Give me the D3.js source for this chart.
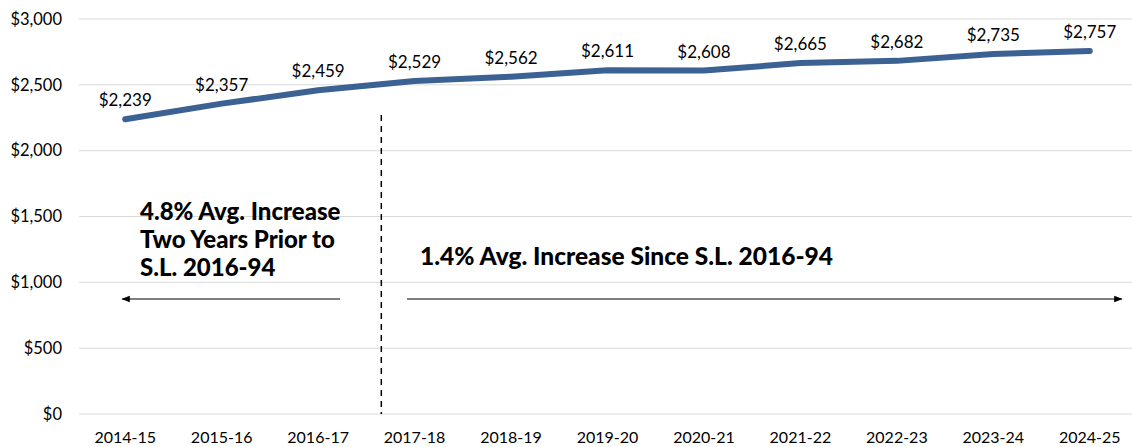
<!DOCTYPE html>
<html>
<head>
<meta charset="utf-8">
<script src="https://cdn.jsdelivr.net/npm/d3@7"></script>
<style>
  body { margin: 0; background: #fff; }
  svg text { font-family: Lato, "Open Sans", sans-serif; fill: #000; }
</style>
</head>
<body>
<script>
var years = ["2014-15","2015-16","2016-17","2017-18","2018-19","2019-20","2020-21","2021-22","2022-23","2023-24","2024-25"];
var values = [2239, 2357, 2459, 2529, 2562, 2611, 2608, 2665, 2682, 2735, 2757];
var yTicks = [0, 500, 1000, 1500, 2000, 2500, 3000];
var noteLeft = ["4.8% Avg. Increase", "Two Years Prior to", "S.L. 2016-94"];
var noteRight = "1.4% Avg. Increase Since S.L. 2016-94";

var width = 1132, height = 447;
var margin = {top: 19, right: -6, bottom: 33, left: 77};

var svg = d3.select("body").append("svg")
    .attr("width", width)
    .attr("height", height);

var x = d3.scalePoint()
    .domain(years)
    .range([margin.left, width - margin.right])
    .padding(0.5);

var y = d3.scaleLinear()
    .domain([0, 3000])
    .range([height - margin.bottom, margin.top]);

var fmt = function(d) { return "$" + d3.format(",")(d); };

// gridlines
svg.append("g")
  .selectAll("line")
  .data(yTicks)
  .enter().append("line")
    .attr("x1", margin.left + 2)
    .attr("x2", width)
    .attr("y1", function(d) { return y(d); })
    .attr("y2", function(d) { return y(d); })
    .attr("stroke", "#d9d9d9")
    .attr("stroke-width", 1);

// y labels
svg.append("g")
  .selectAll("text")
  .data(yTicks)
  .enter().append("text")
    .attr("x", 62)
    .attr("y", function(d) { return y(d); })
    .attr("dy", "0.35em")
    .attr("text-anchor", "end")
    .style("font-size", "16.5px")
    .text(fmt);

// x labels
svg.append("g")
  .selectAll("text")
  .data(years)
  .enter().append("text")
    .attr("x", function(d) { return x(d); })
    .attr("y", 437)
    .attr("dy", "0.35em")
    .attr("text-anchor", "middle")
    .style("font-size", "16px")
    .text(function(d) { return d; });

// dashed divider between 2016-17 and 2017-18
var divX = x("2016-17") + x.step() * 0.655;
svg.append("line")
    .attr("x1", divX).attr("x2", divX)
    .attr("y1", 115).attr("y2", y(0))
    .attr("stroke", "#000")
    .attr("stroke-width", 1.5)
    .attr("stroke-dasharray", "6,5");

// arrows
var defs = svg.append("defs");
defs.append("marker")
    .attr("id", "arrow")
    .attr("viewBox", "0 0 10 10")
    .attr("refX", 9).attr("refY", 5)
    .attr("markerWidth", 7).attr("markerHeight", 7)
    .attr("orient", "auto-start-reverse")
  .append("path")
    .attr("d", "M0,1L10,5L0,9Z")
    .attr("fill", "#000");

var arrowY = 299;
svg.append("line")
    .attr("x1", 340).attr("x2", x("2014-15") - 3)
    .attr("y1", arrowY).attr("y2", arrowY)
    .attr("stroke", "#000").attr("stroke-width", 1.2)
    .attr("marker-end", "url(#arrow)");
svg.append("line")
    .attr("x1", 407).attr("x2", x("2024-25") + 32)
    .attr("y1", arrowY).attr("y2", arrowY)
    .attr("stroke", "#000").attr("stroke-width", 1.2)
    .attr("marker-end", "url(#arrow)");

// annotations
svg.append("text")
    .attr("x", 140)
    .attr("y", 212)
    .style("font-size", "24px")
    .style("font-weight", "900")
  .selectAll("tspan")
  .data(noteLeft)
  .enter().append("tspan")
    .attr("x", 140)
    .attr("dy", function(d, i) { return i === 0 ? "0.35em" : "28px"; })
    .text(function(d) { return d; });

svg.append("text")
    .attr("x", 420)
    .attr("y", 256)
    .attr("dy", "0.35em")
    .style("font-size", "24.5px")
    .style("font-weight", "900")
    .text(noteRight);

// line
var line = d3.line()
    .x(function(d, i) { return x(years[i]); })
    .y(function(d) { return y(d); });

svg.append("path")
    .datum(values)
    .attr("fill", "none")
    .attr("stroke", "#3c6193")
    .attr("stroke-width", 6)
    .attr("stroke-linecap", "round")
    .attr("stroke-linejoin", "round")
    .attr("d", line);

// data labels
svg.append("g")
  .selectAll("text")
  .data(values)
  .enter().append("text")
    .attr("x", function(d, i) { return x(years[i]); })
    .attr("y", function(d) { return y(d) - 19; })
    .attr("dy", "0.35em")
    .attr("text-anchor", "middle")
    .style("font-size", "17px")
    .text(fmt);
</script>
</body>
</html>
